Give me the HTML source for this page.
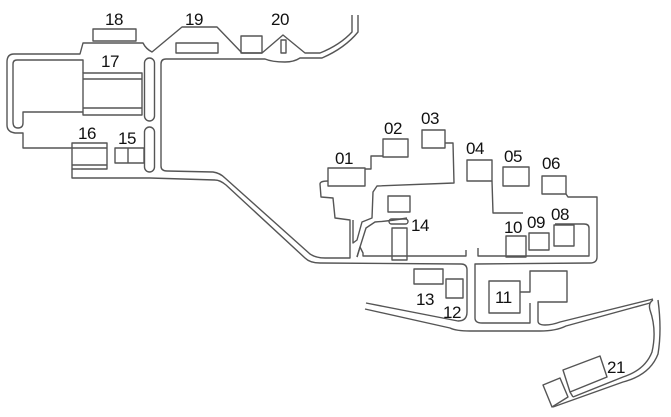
<!DOCTYPE html>
<html><head><meta charset="utf-8"><style>
html,body{margin:0;padding:0;background:#fff;width:671px;height:417px;overflow:hidden}
svg{display:block}
text{font-family:"Liberation Sans",Arial,sans-serif;font-size:17px;fill:#111;letter-spacing:-0.5px}
</style></head><body>
<svg width="671" height="417" viewBox="0 0 671 417" xmlns="http://www.w3.org/2000/svg">
<g fill="none" stroke="#555" stroke-width="1.4" stroke-linejoin="round">
<path d="M72,148 L23,148 L23,133 L15,133 Q7,132 7,125 L7,62 Q7,54 14,54 L80,54 L83,43 L143,43 Q146,49 152,52 L182,27 L217,27 L242,53 L262,53 L283,35 L305,53 L320,53 Q340,45 352,32 L352,15"/>
<path d="M358,15 L358,32 Q345,48 322,58 L300,58 Q294,62 285,62 Q272,62 265,59 L166,59 Q161,59 161,64 L161,166 Q161,171 167,171 L213,172 Q220,173 225,178 L310,254 Q316,258 325,258 L350,258 L350,220 L335,218 L333,198 L321,197 L320,184 Q320,181 328,181"/>
<path d="M150,178 L215,180 Q220,180 226,185 L305,258 Q310,263 320,263 L461,264 Q467,264 467,270 L467,312 Q467,321 458,321 L366,303"/>
<path d="M365,309 L450,328 Q456,331 470,331 L540,331 Q556,331 566,326 L650,303"/>
<path d="M545,325 Q552,325 560,322 L653,299"/>
<path d="M83,73 L83,60 L17,60 Q13,60 13,64 L13,122 Q13,128 18,128 Q23,128 23,123 L23,112 L83,112"/>
<path d="M72,169 L72,178 L150,178"/>
<rect x="93" y="29" width="43" height="12"/>
<rect x="83" y="73" width="59" height="42"/>
<path d="M83,79 H142 M83,108 H142"/>
<rect x="144.5" y="58" width="10" height="63" rx="5"/>
<rect x="144.5" y="127" width="10" height="45" rx="5"/>
<rect x="72" y="143" width="35" height="26"/>
<path d="M72,148 H107 M72,165 H107"/>
<rect x="115" y="148" width="29" height="15"/>
<path d="M128,148 V163"/>
<rect x="176" y="43" width="42" height="10"/>
<rect x="241" y="36" width="21" height="17"/>
<rect x="281" y="40" width="5" height="13"/>
<rect x="328" y="168" width="37" height="18"/>
<rect x="383" y="139" width="25" height="18"/>
<rect x="422" y="130" width="23" height="18"/>
<rect x="467" y="160" width="25" height="21"/>
<rect x="503" y="167" width="26" height="19"/>
<rect x="542" y="176" width="24" height="18"/>
<path d="M365,169 L371,169 L371,156 L383,156"/>
<path d="M445,143 L453,143 L454,183 L377,186 L373,192 L372,218 L362,222 L357,240 L353,243 L353,220"/>
<rect x="388" y="196" width="22" height="16"/>
<rect x="389" y="219" width="19" height="5" rx="2.5"/>
<rect x="392" y="228" width="15" height="32"/>
<path d="M407,218 Q390,221 375,222 L366,228 L360,247 L357,257"/>
<path d="M357,257 L360,247 L363,253 L363,256 L466,256 L466,250"/>
<path d="M492,181 L493,213 L523,213"/>
<path d="M566,194 L568,197 L597,197 L597,257 Q597,263 590,263 L475,264 Q475,264 475,270 L475,318 Q475,323 482,323 L530,323 L530,303"/>
<path d="M478,248 L478,256 L589,256 L589,228 Q589,224 584,224 L555,224"/>
<rect x="506" y="236" width="20" height="21"/>
<rect x="529" y="233" width="20" height="17"/>
<rect x="554" y="225" width="20" height="21"/>
<rect x="414" y="269" width="29" height="15"/>
<rect x="446" y="279" width="17" height="19"/>
<rect x="489" y="281" width="31" height="32"/>
<path d="M520,292 L530,292 L530,271 L567,271 L567,302 L538,302 L538,321 Q538,325 545,325"/>
<path d="M653,300 Q648,303 650,310 Q657,330 652,352 Q645,370 623,377 L573,397"/>
<path d="M658,300 Q662,330 658,354 Q650,375 623,382 L553,407"/>
<polygon points="563,370 600,356 607,377 570,392"/>
<path d="M570,392 L573,397"/>
<polygon points="543,385 560,378 568,397 552,407"/>
</g>
<text x="105" y="25">18</text>
<text x="185" y="25">19</text>
<text x="271" y="25">20</text>
<text x="101" y="67">17</text>
<text x="78" y="139">16</text>
<text x="118" y="144">15</text>
<text x="335" y="164">01</text>
<text x="384" y="134">02</text>
<text x="421" y="124">03</text>
<text x="466" y="154">04</text>
<text x="504" y="162">05</text>
<text x="542" y="169">06</text>
<text x="411" y="231">14</text>
<text x="504" y="233">10</text>
<text x="527" y="228">09</text>
<text x="551" y="220">08</text>
<text x="416" y="305">13</text>
<text x="443" y="318">12</text>
<text x="495" y="303">11</text>
<text x="607" y="373">21</text>
</svg>
</body></html>
